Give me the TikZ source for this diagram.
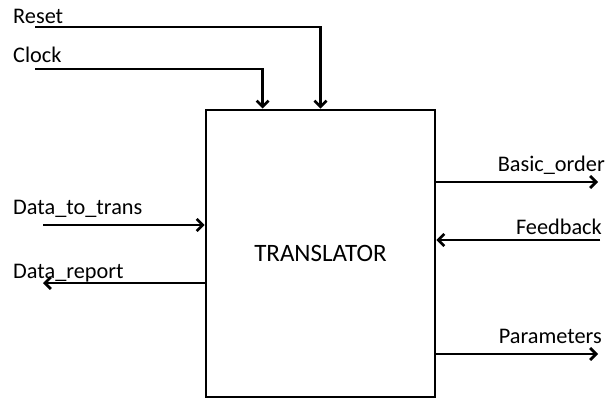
\documentclass[tikz,border=0pt]{standalone}
\usepackage{fontspec}
\setmainfont{Carlito}
\usetikzlibrary{arrows.meta}

\begin{document}
\begin{tikzpicture}[
        x=1pt, y=-1pt,
        every node/.style={font=\fontsize{22.3}{26}\selectfont, inner sep=0pt},
        block/.style={rectangle, draw=black, line width=2.8pt, minimum width=229pt, minimum height=287pt, font=\fontsize{25}{30}\selectfont},
        lbl/.style={anchor=base west},
        rlbl/.style={anchor=base east},
        sig/.style={-{Straight Barb[length=6pt, width=12pt]}, line width=2.7pt}
    ]
        \useasboundingbox (0,0) rectangle (612,401);

        \node[block] (trans) at (320.5,253.5) {TRANSLATOR};

        \coordinate (resetin) at (35,27);
        \coordinate (clockin) at (35,69);
        \coordinate (datain)  at (43,225);
        \coordinate (datarep) at (43,283);
        \coordinate (orderout) at (598,182);
        \coordinate (feedin)   at (600,240);
        \coordinate (paramout) at (598,354);

        \node[lbl]  (resetlbl) at (13,24)   {Reset};
        \node[lbl]  (clocklbl) at (13,63)   {Clock};
        \node[lbl]  (datalbl)  at (13,214)  {Data\_to\_trans};
        \node[lbl]  (replbl)   at (13,278)  {Data\_report};
        \node[rlbl] (orderlbl) at (605,171) {Basic\_order};
        \node[rlbl] (feedlbl)  at (602,234) {Feedback};
        \node[rlbl] (paramlbl) at (602,343) {Parameters};

        \draw[sig] (resetin) -| (trans.north);
        \draw[sig] (clockin) -| ([xshift=58pt]trans.north west);
        \draw[sig] (datain) -- (datain -| trans.west);
        \draw[sig] (datarep -| trans.west) -- (datarep);
        \draw[sig] (orderout -| trans.east) -- (orderout);
        \draw[sig] (feedin) -- (feedin -| trans.east);
        \draw[sig] (paramout -| trans.east) -- (paramout);
    \end{tikzpicture}
\end{document}
